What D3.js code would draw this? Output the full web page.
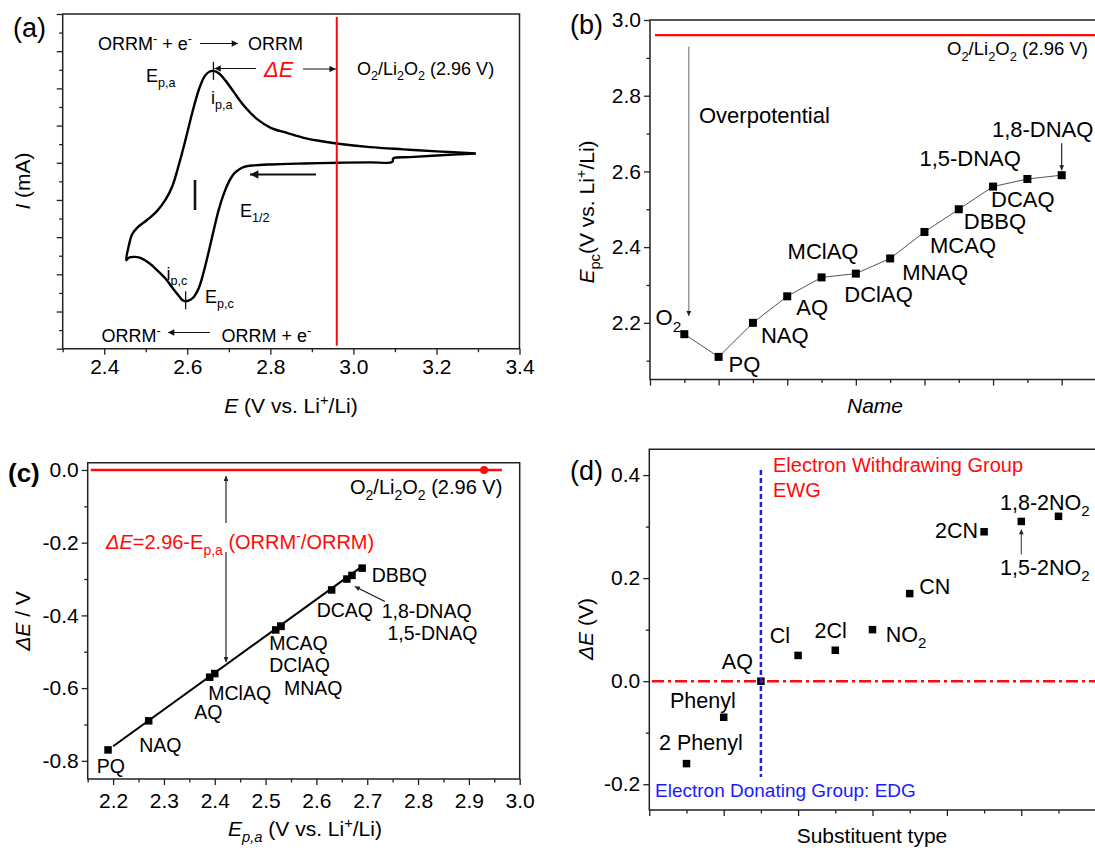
<!DOCTYPE html>
<html>
<head>
<meta charset="utf-8">
<script src="https://cdn.jsdelivr.net/npm/d3@7"></script>
<style>
  body { margin: 0; background: #fff; }
  svg { display: block; font-family: "Liberation Sans", Arial, Helvetica, sans-serif; }
  text { white-space: pre; }
</style>
</head>
<body>
<script>
// ---------------- data ----------------
// (a) cyclic voltammogram: cathodic sweep from the upper vertex, then the anodic return
const cvPotential = [3.295,3.201,3.136,3.096,3.094,3.040,2.964,2.880,2.801,2.761,
  2.737,2.725,2.713,2.701,2.689,2.676,2.664,2.652,2.640,2.628,
  2.614,2.603,2.596,2.588,2.580,2.564,2.548,2.527,2.507,2.487,
  2.471,2.459,2.453,
  2.459,2.467,2.479,2.503,2.527,2.548,2.564,2.580,2.596,2.612,
  2.628,2.642,2.654,2.663,2.676,2.693,2.713,2.737,2.769,2.801,
  2.840,2.880,2.920,2.964,3.040,3.120,3.201,3.295];
const cvCurrent = [0.050,0.039,0.030,0.023,0.005,0.002,0.000,-0.004,-0.009,-0.014,
  -0.022,-0.036,-0.057,-0.099,-0.161,-0.251,-0.359,-0.475,-0.583,-0.672,
  -0.726,-0.742,-0.745,-0.738,-0.717,-0.672,-0.624,-0.577,-0.538,-0.511,
  -0.506,-0.511,-0.524,
  -0.448,-0.386,-0.350,-0.308,-0.260,-0.197,-0.126,-0.009,0.126,0.269,
  0.394,0.466,0.491,0.494,0.481,0.439,0.377,0.305,0.233,0.188,
  0.161,0.134,0.117,0.102,0.084,0.072,0.061,0.050];
const aTickLabels = ["2.4","2.6","2.8","3.0","3.2","3.4"];
const aMajorTicks = [2.4,2.6,2.8,3.0,3.2,3.4];
const aMinorTicks = [2.3,2.5,2.7,2.9,3.1,3.3];
const aYMajor = [-1.0,-0.8,-0.6,-0.4,-0.2,0,0.2,0.4,0.6,0.8];
const aYMinor = [-0.9,-0.7,-0.5,-0.3,-0.1,0.1,0.3,0.5,0.7];
const o2Li2O2 = 2.96;

// (b) cathodic peak potential of each mediator
const bNames = ["O_{2}","PQ","NAQ","AQ","MClAQ","DClAQ","MNAQ","MCAQ","DBBQ","DCAQ","1,5-DNAQ","1,8-DNAQ"];
const bIndex = [1,2,3,4,5,6,7,8,9,10,11,12];
const bEpc = [2.17,2.11,2.20,2.27,2.32,2.33,2.37,2.44,2.50,2.56,2.58,2.59];
const bYTickLabels = ["2.2","2.4","2.6","2.8","3.0"];
const bYMajor = [2.2,2.4,2.6,2.8,3.0];
const bYMinor = [2.1,2.3,2.5,2.7,2.9];

// (c) overpotential against anodic peak potential
const cNames = ["PQ","NAQ","AQ","MClAQ","MCAQ","DClAQ","MNAQ","DCAQ","1,8-DNAQ","1,5-DNAQ","DBBQ"];
const cEpa = [2.19,2.27,2.39,2.40,2.52,2.53,2.53,2.63,2.66,2.67,2.69];
const cDeltaE = [-0.77,-0.69,-0.57,-0.56,-0.44,-0.43,-0.43,-0.33,-0.30,-0.29,-0.27];
const cFitEpa = [2.20, 2.69];
const cFitDeltaE = [-0.76, -0.265];
const cRefLineEpa = [2.156, 2.965];
const cRefPointEpa = 2.93;
const cXTickLabels = ["2.2","2.3","2.4","2.5","2.6","2.7","2.8","2.9","3.0"];
const cXMajor = [2.2,2.3,2.4,2.5,2.6,2.7,2.8,2.9,3.0];
const cXMinor = [2.15,2.25,2.35,2.45,2.55,2.65,2.75,2.85,2.95];
const cYTickLabels = ["-0.8","-0.6","-0.4","-0.2","0.0"];
const cYMajor = [-0.8,-0.6,-0.4,-0.2,0];
const cYMinor = [-0.7,-0.5,-0.3,-0.1];

// (d) shift relative to AQ by substituent
const dNames = ["2 Phenyl","Phenyl","AQ","Cl","2Cl","NO_{2}","CN","2CN","1,5-2NO_{2}","1,8-2NO_{2}"];
const dIndex = [1,2,3,4,5,6,7,9,10,11];
const dDeltaE = [-0.16,-0.07,0.00,0.05,0.06,0.10,0.17,0.29,0.31,0.32];
const dYTickLabels = ["-0.2","0.0","0.2","0.4"];
const dYMajor = [-0.2,0,0.2,0.4];
const dYMinor = [-0.1,0.1,0.3];

// ---------------- helpers ----------------
const INK = "#000";
const RED = "#ff0a0a";
const BLUE = "#1a1aff";
const TICK_FS = 21;

const svg = d3.select("body").append("svg").attr("width", 1095).attr("height", 848);
const defs = svg.append("defs");

function makeMarker(id, color, size) {
  defs.append("marker").attr("id", id)
    .attr("viewBox", "0 0 10 10").attr("refX", 10).attr("refY", 5)
    .attr("markerWidth", size).attr("markerHeight", size * 0.7)
    .attr("markerUnits", "userSpaceOnUse").attr("orient", "auto")
    .append("path").attr("d", "M0,0 L10,5 L0,10 Z").attr("fill", color);
}
makeMarker("head", "#111", 9);
makeMarker("headSmall", "#222", 7);
makeMarker("headBig", "#111", 12);

// text with _{sub}, ^{sup} and *italic* runs
function rich(parent, str, x, y, opt = {}) {
  const fs = opt.size || 20;
  const t = parent.append("text").attr("x", x).attr("y", y)
    .attr("font-size", fs).attr("fill", opt.color || INK)
    .attr("text-anchor", opt.anchor || "start");
  if (opt.rotate) t.attr("transform", `rotate(-90,${x},${y})`);
  if (opt.weight) t.attr("font-weight", opt.weight);
  const parts = str.split(/(_\{[^}]*\}|\^\{[^}]*\}|\*[^*]+\*)/).filter(s => s.length);
  let off = 0;
  parts.forEach(p => {
    let txt = p, sz = fs, target = 0, ital = false;
    if (p.startsWith("_{")) { txt = p.slice(2, -1); sz = fs * 0.7; target = fs * 0.3; }
    else if (p.startsWith("^{")) { txt = p.slice(2, -1); sz = fs * 0.7; target = -fs * 0.4; }
    else if (p.startsWith("*")) { txt = p.slice(1, -1); ital = true; }
    if (txt.startsWith("*") && txt.endsWith("*")) { txt = txt.slice(1, -1); ital = true; }
    const s = t.append("tspan").attr("font-size", sz).attr("dy", target - off).text(txt);
    if (ital) s.attr("font-style", "italic");
    off = target;
  });
  return t;
}

function axis(g, scale, orient, pos, majors, minors, labels, opt = {}) {
  const fn = orient === "bottom" ? d3.axisBottom : d3.axisLeft;
  const tr = orient === "bottom" ? `translate(0,${pos})` : `translate(${pos},0)`;
  const gMin = g.append("g").attr("transform", tr)
    .call(fn(scale).tickValues(minors).tickSize(3.5).tickFormat(""));
  const gMaj = g.append("g").attr("transform", tr)
    .call(fn(scale).tickValues(majors).tickSize(6).tickPadding(opt.pad || 3)
      .tickFormat((d, i) => labels ? labels[i] : ""));
  [gMin, gMaj].forEach(a => {
    a.attr("font-family", null).attr("font-size", null);
    a.select(".domain").remove();
    a.selectAll("line").attr("stroke", "#222").attr("stroke-width", 1.3);
    a.selectAll("text").attr("font-size", TICK_FS).attr("fill", INK);
  });
}

function frame(g, x0, y0, x1, y1, openRight) {
  const p = openRight
    ? `M${x1},${y0} L${x0},${y0} L${x0},${y1} L${x1},${y1}`
    : `M${x0},${y0} L${x1},${y0} L${x1},${y1} L${x0},${y1} Z`;
  g.append("path").attr("d", p).attr("fill", "none").attr("stroke", "#222").attr("stroke-width", 1.5);
}

function squares(g, pts, size) {
  g.selectAll(null).data(pts).enter().append("rect")
    .attr("x", d => d[0] - size / 2).attr("y", d => d[1] - size / 2)
    .attr("width", size).attr("height", size).attr("fill", "#000");
}

function arrow(g, x1, y1, x2, y2, opt = {}) {
  g.append("line").attr("x1", x1).attr("y1", y1).attr("x2", x2).attr("y2", y2)
    .attr("stroke", opt.color || "#111").attr("stroke-width", opt.width || 1.2)
    .attr("marker-end", `url(#${opt.head || "head"})`);
}

// ---------------- (a) ----------------
{
  const g = svg.append("g");
  const x = d3.scaleLinear([2.3, 3.4], [62.7, 519.5]);
  const y = d3.scaleLinear([-1.0, 0.8], [348.7, 14]);
  axis(g, x, "bottom", 348.7, aMajorTicks, aMinorTicks, aTickLabels, { pad: 4 });
  axis(g, y, "left", 62.7, aYMajor, aYMinor, null);
  frame(g, 62.7, 14, 519.5, 348.7);

  const pts = cvPotential.map((e, i) => [x(e), y(cvCurrent[i])]);
  g.append("path").attr("d", d3.line().curve(d3.curveCatmullRom.alpha(0.5))(pts))
    .attr("fill", "none").attr("stroke", "#000").attr("stroke-width", 2.4).attr("stroke-linejoin", "round");

  // equilibrium potential
  g.append("line").attr("x1", x(o2Li2O2)).attr("x2", x(o2Li2O2)).attr("y1", 17).attr("y2", 345.7)
    .attr("stroke", RED).attr("stroke-width", 2);

  // peak markers from the curve itself
  const iMax = d3.maxIndex(cvCurrent), iMin = d3.minIndex(cvCurrent);
  const pk = [x(cvPotential[iMax]), y(cvCurrent[iMax])];
  const vl = [x(cvPotential[iMin]), y(cvCurrent[iMin])];
  g.append("line").attr("x1", pk[0]).attr("x2", pk[0]).attr("y1", pk[1] - 9).attr("y2", pk[1] + 9)
    .attr("stroke", "#111").attr("stroke-width", 1.3);
  g.append("line").attr("x1", vl[0]).attr("x2", vl[0]).attr("y1", vl[1] - 10).attr("y2", vl[1] + 8)
    .attr("stroke", "#111").attr("stroke-width", 1.3);

  rich(g, "(a)", 13, 37, { size: 27 });
  rich(g, "ORRM^{-} + e^{-}", 98, 50, { size: 18 });
  arrow(g, 200, 43.5, 238, 43.5);
  rich(g, "ORRM", 248, 50, { size: 18 });
  rich(g, "E_{p,a}", 146, 82, { size: 18 });
  rich(g, "i_{p,a}", 211, 104, { size: 18 });
  arrow(g, 256, 68.5, pk[0] + 1, 68.5);
  rich(g, "*ΔE*", 264, 76.5, { size: 22, color: RED });
  arrow(g, 303, 69, x(o2Li2O2) - 1, 69);
  rich(g, "O_{2}/Li_{2}O_{2} (2.96 V)", 357, 75, { size: 18 });

  g.append("line").attr("x1", 195).attr("x2", 195).attr("y1", 180).attr("y2", 210)
    .attr("stroke", "#111").attr("stroke-width", 2.6);
  arrow(g, 316, 174.5, 250, 174.5, { width: 2.2, head: "headBig" });
  rich(g, "E_{1/2}", 240, 217, { size: 18 });
  rich(g, "i_{p,c}", 166.5, 280, { size: 18 });
  rich(g, "E_{p,c}", 205, 303, { size: 18 });
  rich(g, "ORRM^{-}", 101.5, 342, { size: 18 });
  arrow(g, 210, 332.5, 168, 332.5);
  rich(g, "ORRM + e^{-}", 221.5, 342, { size: 18 });

  rich(g, "*I* (mA)", 29.5, 181, { size: 21, rotate: true, anchor: "middle" });
  rich(g, "*E* (V vs. Li^{+}/Li)", 291, 413, { size: 21, anchor: "middle" });
}

// ---------------- (b) ----------------
{
  const g = svg.append("g");
  const x = d3.scaleLinear([0, 13], [650, 1096]);
  const y = d3.scaleLinear([2.05, 3.0], [379.6, 20]);
  axis(g, x, "bottom", 379.6, [0, 2, 4, 6, 8, 10, 12], [1, 3, 5, 7, 9, 11], null);
  axis(g, y, "left", 650, bYMajor, bYMinor, bYTickLabels);
  frame(g, 650, 20, 1100, 379.6, true);

  g.append("line").attr("x1", 655).attr("x2", 1095).attr("y1", y(o2Li2O2)).attr("y2", y(o2Li2O2))
    .attr("stroke", RED).attr("stroke-width", 2.2);
  rich(g, "O_{2}/Li_{2}O_{2} (2.96 V)", 947, 55, { size: 18.5 });

  const pts = bEpc.map((v, i) => [x(bIndex[i]), y(v)]);
  g.append("path").attr("d", d3.line()(pts)).attr("fill", "none").attr("stroke", "#555").attr("stroke-width", 1);
  squares(g, pts, 8);

  // overpotential arrow down to the O2 point
  arrow(g, pts[0][0] + 4.5, 46.5, pts[0][0] + 4.5, 316, { color: "#8a8a8a", width: 1.3, head: "headSmall" });
  rich(g, "Overpotential", 699, 123, { size: 22 });

  const off = [
    [-3, -9, "end"], [10, 15, "start"], [8, 20.5, "start"],
    [9, 19, "start"], [1.5, -18, "middle"], [-11.5, 28, "start"],
    [12, 21.5, "start"], [5.6, 21.3, "start"], [5, 20, "start"],
    [-2, 20, "start"], [-6.5, -12.5, "end"], [-19, -38.5, "middle"]
  ];
  bNames.forEach((n, i) => rich(g, n, pts[i][0] + off[i][0], pts[i][1] + off[i][1], { size: 22, anchor: off[i][2] }));
  const last = pts[pts.length - 1];
  arrow(g, last[0], last[1] - 32, last[0], last[1] - 5, { width: 1.1, head: "headSmall" });

  rich(g, "(b)", 570, 34, { size: 27 });
  rich(g, "*E*_{pc}(V vs. Li^{+}/Li)", 594, 212, { size: 21, rotate: true, anchor: "middle" });
  rich(g, "*Name*", 875, 413, { size: 21, anchor: "middle" });
}

// ---------------- (c) ----------------
{
  const g = svg.append("g");
  const x = d3.scaleLinear([2.15, 3.0], [87.7, 519.7]);
  const y = d3.scaleLinear([-0.85, 0.02], [779, 462.7]);
  axis(g, x, "bottom", 779, cXMajor, cXMinor, cXTickLabels, { pad: 8 });
  axis(g, y, "left", 87.7, cYMajor, cYMinor, cYTickLabels);
  frame(g, 87.7, 462.7, 519.7, 779);

  g.append("line").attr("x1", x(cRefLineEpa[0])).attr("x2", x(cRefLineEpa[1]))
    .attr("y1", y(0)).attr("y2", y(0)).attr("stroke", RED).attr("stroke-width", 2.5);
  g.append("circle").attr("cx", x(cRefPointEpa)).attr("cy", y(0)).attr("r", 4).attr("fill", RED);
  rich(g, "O_{2}/Li_{2}O_{2} (2.96 V)", 350, 493.5, { size: 20 });

  g.append("line").attr("x1", x(cFitEpa[0])).attr("y1", y(cFitDeltaE[0]))
    .attr("x2", x(cFitEpa[1])).attr("y2", y(cFitDeltaE[1]))
    .attr("stroke", "#000").attr("stroke-width", 2);
  const pts = cEpa.map((e, i) => [x(e), y(cDeltaE[i])]);
  squares(g, pts, 7.5);

  // overpotential span between reference line and the trend
  arrow(g, 226, 523, 226, 476, { width: 1.1, head: "headSmall" });
  arrow(g, 226, 552, 226, 662, { width: 1.1, head: "headSmall" });
  rich(g, "*ΔE*=2.96-E_{p,a} (ORRM^{-}/ORRM)", 106, 548.5, { size: 20, color: RED });

  // stacked labels under the MCAQ / DClAQ / MNAQ cluster
  const off = [
    [-11.3, 23.4], [-9.4, 31.4], [-15.4, 42], [-6.5, 26.4],
    [-6.5, 20.5], [-11.6, 45.5], [3.2, 68.5], [-15, 27],
    [34.8, 39], [35.4, 65], [9.6, 13.5]
  ];
  cNames.forEach((n, i) => rich(g, n, pts[i][0] + off[i][0], pts[i][1] + off[i][1], { size: 19.5 }));
  const p18 = pts[8];
  arrow(g, p18[0] + 38, p18[1] + 22.5, p18[0] + 8, p18[1] + 7.5, { width: 1.1, head: "headSmall" });

  rich(g, "(c)", 8, 482, { size: 26, weight: "bold" });
  rich(g, "*ΔE* / V", 30, 621, { size: 21, rotate: true, anchor: "middle" });
  rich(g, "*E*_{*p,a*} (V vs. Li^{+}/Li)", 305, 836, { size: 21, anchor: "middle" });
}

// ---------------- (d) ----------------
{
  const g = svg.append("g");
  const x = d3.scaleLinear([0, 12], [649.3, 1095.7]);
  const y = d3.scaleLinear([-0.25, 0.45], [810, 449.3]);
  axis(g, x, "bottom", 810, [0, 2, 4, 6, 8, 10, 12], [1, 3, 5, 7, 9, 11], null);
  axis(g, y, "left", 649.3, dYMajor, dYMinor, dYTickLabels);
  frame(g, 649.3, 449.3, 1100, 810, true);

  const pts = dDeltaE.map((v, i) => [x(dIndex[i]), y(v)]);
  squares(g, pts, 7.5);

  g.append("line").attr("x1", 652).attr("x2", 1095).attr("y1", y(0)).attr("y2", y(0))
    .attr("stroke", RED).attr("stroke-width", 2.5).attr("stroke-dasharray", "12,4,3,4");
  g.append("line").attr("x1", x(3)).attr("x2", x(3)).attr("y1", 470).attr("y2", 777)
    .attr("stroke", BLUE).attr("stroke-width", 2.5).attr("stroke-dasharray", "5,3");

  rich(g, "Electron Withdrawing Group", 773, 472, { size: 20, color: RED });
  rich(g, "EWG", 773, 497, { size: 20, color: RED });
  rich(g, "Electron Donating Group: EDG", 655, 797, { size: 19, color: BLUE });

  const off = [
    [-27.5, -13.6, "start"], [12, -9, "end"], [-8, -12, "end"],
    [-8, -12, "end"], [11.4, -12, "end"], [13.2, 12, "start"],
    [9.6, 0, "start"], [-6, 6.4, "end"], [-21.3, 53.4, "start"],
    [-58.5, -6.5, "start"]
  ];
  dNames.forEach((n, i) => rich(g, n, pts[i][0] + off[i][0], pts[i][1] + off[i][1], { size: 21.5, anchor: off[i][2] }));
  const p15 = pts[8];
  arrow(g, p15[0], p15[1] + 33, p15[0], p15[1] + 8, { color: "#444", width: 1.1, head: "headSmall" });

  rich(g, "(d)", 570, 480, { size: 27 });
  rich(g, "*ΔE* (V)", 593, 629, { size: 21, rotate: true, anchor: "middle" });
  rich(g, "Substituent type", 872, 843, { size: 21, anchor: "middle" });
}
</script>
</body>
</html>
